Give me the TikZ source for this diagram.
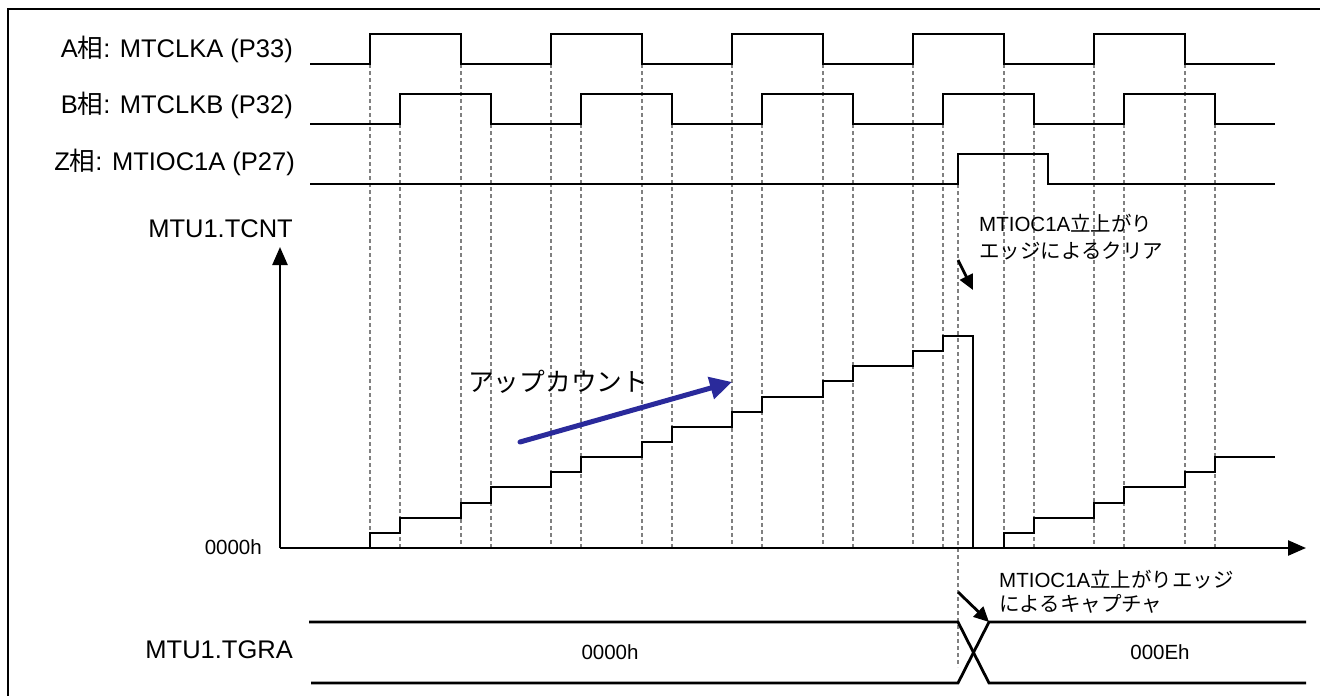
\documentclass[tikz,border=0pt]{standalone}
\usepackage{fontspec}
\setmainfont{Liberation Sans}
\newfontfamily\jp{Noto Sans CJK JP}
\usetikzlibrary{arrows.meta}
\definecolor{upblue}{RGB}{42,42,155}
\begin{document}
\begin{tikzpicture}[x=1pt,y=-1pt,
  sig/.style={line width=2.8pt, line join=miter},
  guide/.style={black!50, line width=1.6pt, dash pattern=on 4pt off 3pt},
  axisline/.style={line width=2.4pt, -{Triangle[length=18pt,width=15pt]}},
  notearrow/.style={line width=2.8pt, -{Triangle[length=15pt,width=14pt]}},
  lbl/.style={anchor=base east, inner sep=0pt, font=\fontsize{25.5}{30}\selectfont},
  val/.style={inner sep=0pt, font=\fontsize{20.5}{24}\selectfont},
  note/.style={anchor=base west, inner sep=0pt, font=\fontsize{20.5}{26}\selectfont},
  ]
\useasboundingbox (0,0) rectangle (1320,696);
% frame
\draw[line width=2.2pt] (8,696) -- (8,9) -- (1320,9);

% guide lines
\foreach \x in {370,461,551,642,732,823,913,1004,1094,1185}
  \draw[guide] (\x,64) -- (\x,548);
\foreach \x in {400,491,581,672,762,853,943,1034,1124,1215}
  \draw[guide] (\x,124) -- (\x,548);
\draw[guide] (958,184) -- (958,667);

% labels
\node[lbl] (la) at (293,57) {A{\jp 相}: MTCLKA (P33)};
\node[lbl] (lb) at (293,113) {B{\jp 相}: MTCLKB (P32)};
\node[lbl] (lz) at (295,170) {Z{\jp 相}: MTIOC1A (P27)};
\node[lbl] (lt) at (293,237) {MTU1.TCNT};
\node[lbl] (lg) at (293,658) {MTU1.TGRA};
\node[val, anchor=base east] (l0) at (262,554) {0000h};

% A phase
\draw[sig] (310,64) -| (370,34) -| (461,64) -| (551,34) -| (642,64) -| (732,34)
  -| (823,64) -| (913,34) -| (1004,64) -| (1094,34) -| (1185,64) -- (1275,64);
% B phase
\draw[sig] (310,124) -| (400,94) -| (491,124) -| (581,94) -| (672,124) -| (762,94)
  -| (853,124) -| (943,94) -| (1034,124) -| (1124,94) -| (1215,124) -- (1275,124);
% Z phase
\draw[sig] (310,184) -| (958,154) -| (1048,184) -- (1275,184);

% TCNT axes
\coordinate (o) at (280,548);
\coordinate (ytop) at (280,247);
\coordinate (xend) at (1306,548);
\draw[axisline] (o) -- (ytop);
\draw[axisline] (o) -- (xend);

% staircase
\draw[sig] (370,548) |- (400,533) |- (461,518) |- (491,503) |- (551,487) |- (581,472)
  |- (642,457) |- (672,442) |- (732,427) |- (762,412) |- (823,397) |- (853,381)
  |- (913,366) |- (943,351) |- (973,336) -- (973,548);
\draw[sig] (1004,548) |- (1034,533) |- (1094,518) |- (1124,503) |- (1185,487)
  |- (1215,472) |- (1275,457);

% up count
\node[anchor=base west, inner sep=0pt, font=\fontsize{25.7}{30}\selectfont\jp] (up) at (468,391) {アップカウント};
\coordinate (ua) at (520,442);
\coordinate (ub) at (732,382);
\draw[upblue, line width=5pt, line cap=round, -{Triangle[length=22pt,width=22pt]}] (ua) -- (ub);

% clear note
\node[note] (n1) at (979,231) {MTIOC1A{\jp 立上がり}};
\node[note] (n2) at (979,258) {\jp エッジによるクリア};
\coordinate (c1) at (958,260);
\coordinate (c2) at (973,290);
\draw[notearrow] (c1) -- (c2);

% capture note
\node[note] (m1) at (999,587) {MTIOC1A{\jp 立上がりエッジ}};
\node[note] (m2) at (999,611) {\jp によるキャプチャ};
\coordinate (d1) at (958,592);
\coordinate (d2) at (989,622);
\draw[notearrow] (d1) -- (d2);

% TGRA bus
\draw[sig] (309,622) -- (958,622) -- (989,683) -- (1306,683);
\draw[sig] (311,683) -- (958,683) -- (989,622) -- (1306,622);
\node[val] (v0) at (610,652) {0000h};
\node[val] (v1) at (1160,652) {000Eh};
\end{tikzpicture}
\end{document}
